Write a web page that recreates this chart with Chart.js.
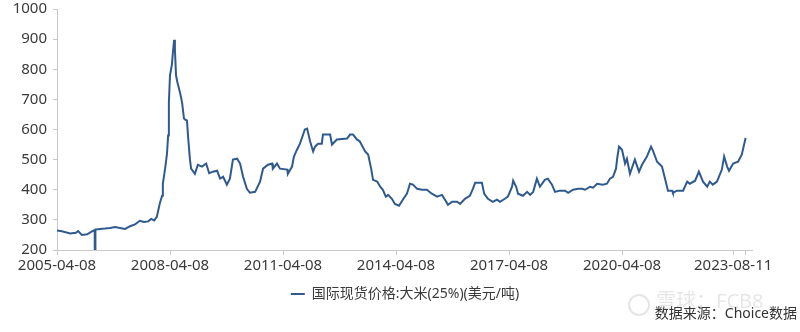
<!DOCTYPE html>
<html>
<head>
<meta charset="utf-8">
<script src="https://cdn.jsdelivr.net/npm/chart.js@4/dist/chart.umd.min.js"></script>
<style>
  html, body { margin: 0; padding: 0; background: #fff; }
  #wrap { width: 800px; height: 332px; position: relative; }
</style>
</head>
<body>
<div id="wrap"><canvas id="c" width="800" height="332"></canvas></div>
<script>
// Dates as decimal years, values in USD/ton
const dates = [
  2005.27, 2005.40, 2005.62, 2005.77, 2005.83, 2005.93, 2006.07, 2006.20, 2006.27, 2006.28, 2006.29,
  2006.41, 2006.54, 2006.68, 2006.81, 2006.94, 2007.08, 2007.21, 2007.34, 2007.47, 2007.58, 2007.69,
  2007.77, 2007.85, 2007.92, 2008.00, 2008.06, 2008.08, 2008.14, 2008.19, 2008.22, 2008.24, 2008.27,
  2008.32, 2008.35, 2008.38, 2008.40, 2008.43, 2008.46, 2008.54, 2008.59, 2008.64, 2008.67, 2008.72,
  2008.75, 2008.80, 2008.83, 2008.93, 2009.01, 2009.12, 2009.23, 2009.31, 2009.41, 2009.52, 2009.60,
  2009.68, 2009.78, 2009.86, 2009.94, 2010.05, 2010.13, 2010.21, 2010.31, 2010.39, 2010.53, 2010.66,
  2010.74, 2010.87, 2010.98, 2011.00, 2011.11, 2011.19, 2011.38, 2011.40, 2011.51, 2011.56, 2011.64,
  2011.72, 2011.85, 2011.91, 2011.99, 2012.07, 2012.12, 2012.20, 2012.30, 2012.33, 2012.52, 2012.57,
  2012.70, 2012.97, 2013.05, 2013.13, 2013.23, 2013.31, 2013.45, 2013.53, 2013.61, 2013.66, 2013.77,
  2013.85, 2013.92, 2014.00, 2014.06, 2014.16, 2014.24, 2014.35, 2014.45, 2014.56, 2014.64, 2014.72,
  2014.83, 2014.96, 2015.09, 2015.22, 2015.36, 2015.49, 2015.57, 2015.65, 2015.76, 2015.89, 2015.97,
  2016.10, 2016.23, 2016.31, 2016.37, 2016.55, 2016.61, 2016.71, 2016.84, 2016.95, 2017.03, 2017.16,
  2017.24, 2017.35, 2017.38, 2017.46, 2017.51, 2017.64, 2017.75, 2017.83, 2017.91, 2018.01, 2018.09,
  2018.22, 2018.30, 2018.41, 2018.49, 2018.62, 2018.76, 2018.84, 2018.97, 2019.10, 2019.21, 2019.29,
  2019.42, 2019.50, 2019.61, 2019.76, 2019.87, 2019.95, 2020.03, 2020.11, 2020.14, 2020.19, 2020.27,
  2020.35, 2020.40, 2020.48, 2020.61, 2020.72, 2020.80, 2020.93, 2021.04, 2021.09, 2021.20, 2021.33,
  2021.41, 2021.49, 2021.60, 2021.62, 2021.73, 2021.89, 2022.00, 2022.07, 2022.21, 2022.31, 2022.42,
  2022.53, 2022.60, 2022.68, 2022.79, 2022.92, 2022.98, 2023.06, 2023.11, 2023.22, 2023.35, 2023.45,
  2023.55
];
const riceValues = [
  265, 262, 255, 257, 263, 250, 252, 262, 266, 0, 268,
  270, 271, 273, 276, 273, 270, 279, 285, 297, 293, 295,
  303, 298, 310, 355, 380, 420, 470, 520, 580, 690, 780,
  815, 860, 898, 865, 780, 760, 720, 690, 637, 633, 630,
  575, 500, 470, 453, 483, 477, 487, 455, 460, 463, 437,
  443, 417, 437, 500, 503, 487, 443, 403, 390, 393, 427,
  470, 483, 487, 470, 487, 470, 467, 453, 477, 510, 533,
  553, 600, 603, 560, 527, 543, 553, 553, 583, 583, 550,
  567, 570, 583, 583, 567, 560, 527, 517, 470, 433, 427,
  410, 400, 377, 383, 370, 353, 347, 367, 387, 420, 417,
  403, 400, 400, 387, 377, 383, 367, 350, 360, 360, 353,
  370, 380, 403, 423, 423, 387, 370, 360, 367, 360, 370,
  377, 410, 430, 410, 387, 380, 393, 383, 393, 437, 410,
  433, 437, 417, 393, 397, 397, 390, 400, 403, 403, 400,
  410, 407, 420, 417, 420, 437, 443, 470, 503, 543, 533,
  487, 503, 453, 500, 460, 483, 510, 543, 530, 493, 477,
  437, 397, 397, 390, 397, 397, 427, 420, 430, 460, 427,
  410, 427, 417, 427, 467, 510, 477, 463, 487, 493, 517,
  572
];
const seriesName = '国际现货价格:大米(25%)(美元/吨)';
const xTickValues = [2005.27, 2008.27, 2011.27, 2014.27, 2017.27, 2020.27, 2023.22, 2023.56];
const xTickLabels = ['2005-04-08', '2008-04-08', '2011-04-08', '2014-04-08', '2017-04-08', '2020-04-08', '2023-08-11', ''];
const yMin = 200, yMax = 1000, yStep = 100;
const sourceText = '数据来源：Choice数据';
const watermarkText = '雪球：FCB8';

const FONT = '"Noto Sans", "Noto Sans CJK SC", sans-serif';
const AXIS_COLOR = '#c9c9c9';
const TEXT_COLOR = '#3a3a3a';
const LINE_COLOR = '#2F5A8E';

const extraText = {
  id: 'extraText',
  afterDraw(chart) {
    const ctx = chart.ctx;
    ctx.save();
    ctx.fillStyle = 'rgba(0,0,0,0.10)';
    ctx.font = '20px ' + FONT;
    ctx.textBaseline = 'middle';
    ctx.textAlign = 'left';
    ctx.fillText(watermarkText, 656, 302);
    ctx.strokeStyle = 'rgba(0,0,0,0.10)';
    ctx.lineWidth = 2;
    ctx.beginPath();
    ctx.arc(639, 305, 10, 0, Math.PI * 2);
    ctx.stroke();
    ctx.fillStyle = '#333';
    ctx.font = '14px ' + FONT;
    ctx.textAlign = 'right';
    ctx.fillText(sourceText, 797, 314);
    ctx.restore();
  }
};

new Chart(document.getElementById('c'), {
  type: 'line',
  data: {
    datasets: [{
      label: seriesName,
      data: dates.map((d, i) => ({ x: d, y: riceValues[i] })),
      borderColor: LINE_COLOR,
      backgroundColor: LINE_COLOR,
      borderWidth: 2,
      pointRadius: 0,
      pointStyle: 'line',
      tension: 0,
      fill: false
    }]
  },
  options: {
    responsive: false,
    animation: false,
    layout: { padding: { top: 9, right: 0, left: 10, bottom: 21 } },
    plugins: {
      tooltip: { enabled: false },
      legend: {
        position: 'bottom',
        labels: {
          usePointStyle: true,
          pointStyle: 'line',
          pointStyleWidth: 14,
          boxHeight: 14,
          padding: 6,
          color: TEXT_COLOR,
          font: { size: 14, family: FONT }
        }
      }
    },
    scales: {
      x: {
        type: 'linear',
        min: 2005.27,
        max: 2023.72,
        afterBuildTicks: (s) => { s.ticks = xTickValues.map(v => ({ value: v })); },
        afterFit: (s) => { s.height = 31; s.paddingRight = 48; s.paddingLeft = 0; },
        grid: { drawOnChartArea: false, drawTicks: true, tickLength: 5, color: AXIS_COLOR },
        border: { display: true, color: AXIS_COLOR, width: 1 },
        ticks: {
          autoSkip: false,
          maxRotation: 0,
          padding: 2,
          color: TEXT_COLOR,
          font: { size: 15, family: FONT },
          callback: (v, i) => xTickLabels[i]
        }
      },
      y: {
        min: yMin,
        max: yMax,
        afterFit: (s) => { s.width = 47; s.paddingTop = 0; s.paddingBottom = 0; },
        grid: { drawOnChartArea: false, drawTicks: true, tickLength: 4, color: AXIS_COLOR },
        border: { display: true, color: AXIS_COLOR, width: 1 },
        ticks: {
          stepSize: yStep,
          padding: 6,
          color: TEXT_COLOR,
          font: { size: 15, family: FONT },
          callback: (v) => String(v)
        }
      }
    }
  },
  plugins: [extraText]
});
</script>
</body>
</html>
